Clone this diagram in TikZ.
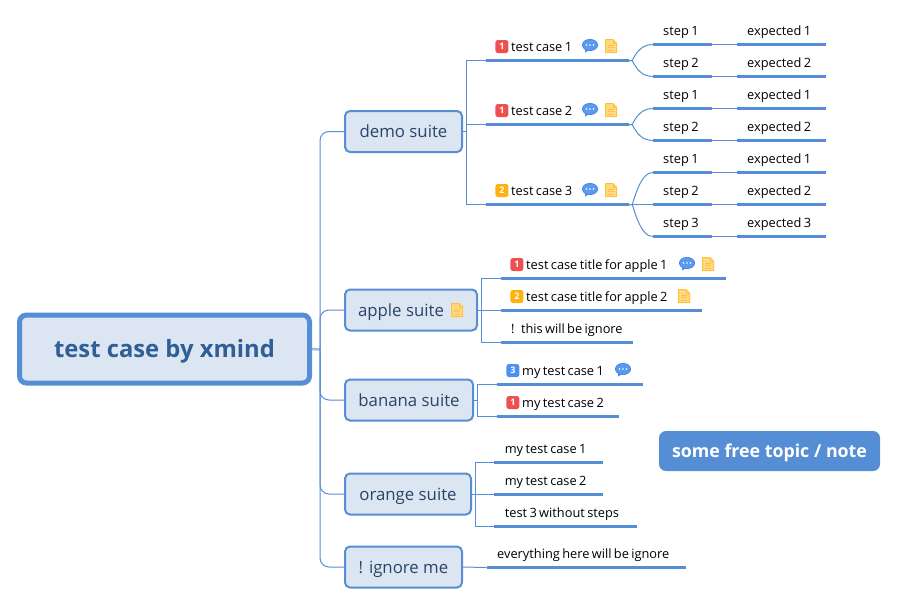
\documentclass[tikz,border=0pt]{standalone}
\usepackage{fontspec}
\setmainfont{Open Sans}
\usepackage{xcolor}
\usetikzlibrary{positioning}
\definecolor{mapblue}{HTML}{558ED5}
\definecolor{mapfill}{HTML}{DCE6F2}
\definecolor{suitetext}{HTML}{2A4468}
\definecolor{roottext}{HTML}{2F5F96}
\definecolor{prioone}{HTML}{EE5050}
\definecolor{priotwo}{HTML}{FFB20E}
\definecolor{priothree}{HTML}{4D90F5}
\definecolor{bubbleblue}{HTML}{5A9BEA}
\tikzset{
  rootbox/.style={draw=mapblue, fill=mapfill, line width=5pt, rounded corners=7pt, minimum width=290pt, minimum height=68pt, text height=18pt, text depth=2pt, inner sep=0pt, text=roottext, font=\fontsize{23.8}{28}\selectfont\bfseries},
  suite/.style={draw=mapblue, fill=mapfill, line width=2pt, rounded corners=5pt, minimum height=41pt, text height=16pt, text depth=3.5pt, anchor=west, inner sep=0pt, text=suitetext, font=\fontsize{16.8}{20}\selectfont},
  rule/.style={draw=mapblue, line width=3pt},
  topic/.style={text width=#1pt, inner xsep=0pt, inner ysep=5pt, outer sep=0pt, text height=10pt, text depth=4pt, anchor=south west, align=left, font=\fontsize{12.8}{15}\selectfont, execute at begin node={\spaceskip=2.4pt\relax\hspace*{10.5pt}},
    append after command={(\tikzlastnode.south west) edge[rule] (\tikzlastnode.south east)}},
  badged/.style={execute at begin node=\hspace*{15pt}},
  badge/.style={fill=#1, rounded corners=2.5pt, minimum size=13pt, inner sep=0pt, text=white, font=\fontsize{9}{9}\selectfont\bfseries},
  link/.style={draw=mapblue, line width=1pt},
  stub/.style={draw=mapblue!60, line width=2.5pt},
  freenote/.style={fill=mapblue, rounded corners=7pt, minimum width=221pt, minimum height=40pt, text height=15pt, text depth=3pt, inner sep=0pt, text=white, font=\fontsize{17.8}{20}\selectfont\bfseries},
  pics/bubbleicon/.style={code={
    \fill[bubbleblue!85!blue] (-4.5,2.5) -- (-5,7) -- (0,4) -- cycle;
    \filldraw[draw=bubbleblue!85!blue, fill=bubbleblue, line width=.8pt] (0,-0.5) ellipse (7.6pt and 5.6pt);
    \fill[white] (-3.5,-0.5) circle (.9pt) (0,-0.5) circle (.9pt) (3.5,-0.5) circle (.9pt);
  }},
  pics/noteicon/.style={code={
    \filldraw[draw=priotwo!80, fill=priotwo!50, line width=1pt] (-5.5,-6.5) -- (2,-6.5) -- (5.5,-3) -- (5.5,6.5) -- (-5.5,6.5) -- cycle;
    \draw[priotwo!80, line width=1pt] (2,-6.5) -- (2,-3) -- (5.5,-3) (-3,-1) -- (3,-1) (-3,1.5) -- (3,1.5) (-3,4) -- (3,4);
  }},
}
\begin{document}
\begin{tikzpicture}[x=1pt, y=-1pt, node distance=8pt]
  \useasboundingbox (0,0) rectangle (907,605);
  \node[rootbox] (root) at (164.5,349) {test case by xmind};
  \node[suite, minimum width=117pt] (demo) at (344,131.5) {demo suite};
  \node[suite, minimum width=132pt] (apple) at (344,310) {apple suite\hspace*{20pt}};
  \node[suite, minimum width=128pt] (banana) at (344,400) {banana suite};
  \node[suite, minimum width=126pt] (orange) at (344,494) {orange suite};
  \node[suite, minimum width=117pt] (ignore) at (344,567) {! ignore me};
  \node[freenote] (free) at (769.5,451) {some free topic / note};
  % demo suite
  \node[topic=143.5, badged] (tc1) at (485.7,60.5) {test case 1};
  \node[topic=143.5, badged] (tc2) at (485.7,124.5) {test case 2};
  \node[topic=143.5, badged] (tc3) at (485.7,204.5) {test case 3};
  \node[topic=59.3] (s11) at (652.7,44.5) {step 1};
  \node[topic=59.3, below=of s11] (s12) {step 2};
  \node[topic=59.3] (s21) at (652.7,108.5) {step 1};
  \node[topic=59.3, below=of s21] (s22) {step 2};
  \node[topic=59.3] (s31) at (652.7,172.5) {step 1};
  \node[topic=59.3, below=of s31] (s32) {step 2};
  \node[topic=59.3, below=of s32] (s33) {step 3};
  \node[topic=89, right=24.7pt of s11] (e11) {expected 1};
  \node[topic=89, right=24.7pt of s12] (e12) {expected 2};
  \node[topic=89, right=24.7pt of s21] (e21) {expected 1};
  \node[topic=89, right=24.7pt of s22] (e22) {expected 2};
  \node[topic=89, right=24.7pt of s31] (e31) {expected 1};
  \node[topic=89, right=24.7pt of s32] (e32) {expected 2};
  \node[topic=89, right=24.7pt of s33] (e33) {expected 3};
  % apple, banana, orange, ignore
  \node[topic=225, badged] (ap1) at (500.7,278.5) {test case title for apple 1};
  \node[topic=201, badged] (ap2) at (500.7,310.5) {test case title for apple 2};
  \node[topic=132.3] (ap3) at (500.7,342.5) {! this will be ignore};
  \node[topic=146.3, badged] (ba1) at (496.7,384.5) {my test case 1};
  \node[topic=122.3, badged] (ba2) at (496.7,416.5) {my test case 2};
  \node[topic=108.4] (or1) at (494.3,462.5) {my test case 1};
  \node[topic=108.4] (or2) at (494.3,494.5) {my test case 2};
  \node[topic=142.4] (or3) at (494.3,526.5) {test 3 without steps};
  \node[topic=199] (ig1) at (486.7,567.5) {everything here will be ignore};
  % priority badges
  \foreach \t/\c/\n in {tc1/prioone/1,tc2/prioone/1,tc3/priotwo/2,ap1/prioone/1,ap2/priotwo/2,ba1/priothree/3,ba2/prioone/1}
    \node[badge=\c, anchor=west] (\t p) at ([xshift=9.5pt,yshift=14pt]\t.south west) {\n};
  % comment and note icons
  \foreach \x/\y in {590/45.5,590/109.5,590/189.5,687/263.5,623/369.5}
    \pic at (\x,\y) {bubbleicon};
  \foreach \x/\y in {611/46,611/110,611/190,708/264,684/296,457/310}
    \pic at (\x,\y) {noteicon};
  % connectors
  \coordinate (spine) at (320,349.5);
  \draw[stub] (root.east) -- (spine);
  \foreach \a in {demo,apple,banana,orange,ignore}
    \draw[link, rounded corners=9pt] (spine) |- (\a.west);
  \foreach \a/\b in {demo/tc1,demo/tc2,demo/tc3}
    \draw[link] (\a.east) -- ++(3.5,0) |- (\b.south west);
  \foreach \a/\b in {apple/ap1,apple/ap2,apple/ap3}
    \draw[link] (\a.east) -- ++(3.3,0) |- (\b.south west);
  \foreach \a/\b in {banana/ba1,banana/ba2}
    \draw[link] (\a.east) -- ++(3.3,0) |- (\b.south west);
  \foreach \a/\b in {orange/or1,orange/or2,orange/or3}
    \draw[link] (\a.east) -- ++(3.3,0) |- (\b.south west);
  \draw[link] (ignore.east) -- (ig1.south west);
  \foreach \a/\b/\d in {tc1/s11/-8,tc1/s12/8,tc2/s21/-8,tc2/s22/8,tc3/s31/-12,tc3/s32/0,tc3/s33/12}
    \draw[link] (\a.south east) -- ++(3,0) .. controls +(4,\d) and +(-11,0) .. (\b.south west);
  \foreach \a/\b in {s11/e11,s12/e12,s21/e21,s22/e22,s31/e31,s32/e32,s33/e33}
    \draw[link] (\a.south east) -- (\b.south west);
\end{tikzpicture}
\end{document}
